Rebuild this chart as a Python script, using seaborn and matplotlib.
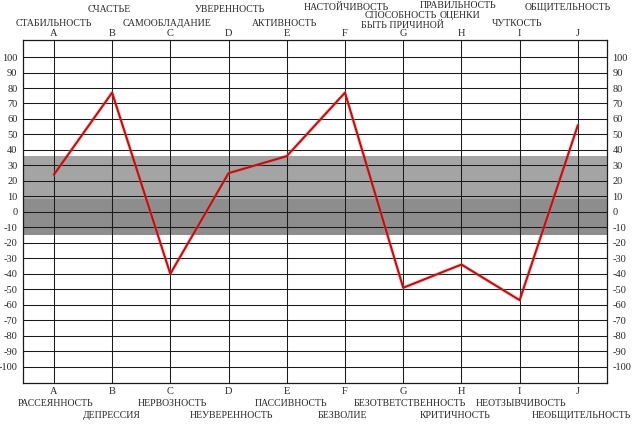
import matplotlib
matplotlib.use("Agg")
import matplotlib.pyplot as plt
import seaborn as sns
import pandas as pd
from matplotlib.transforms import blended_transform_factory

letters = ["A", "B", "C", "D", "E", "F", "G", "H", "I", "J"]
values = [24, 77, -40, 25, 36, 77, -49, -34, -57, 56]
yticks = list(range(-100, 101, 10))

top_labels = ["СТАБИЛЬНОСТЬ", "СЧАСТЬЕ", "САМООБЛАДАНИЕ", "УВЕРЕННОСТЬ", "АКТИВНОСТЬ",
              "НАСТОЙЧИВОСТЬ", "СПОСОБНОСТЬ", "БЫТЬ ПРИЧИНОЙ", "ПРАВИЛЬНОСТЬ", "ОЦЕНКИ",
              "ЧУТКОСТЬ", "ОБЩИТЕЛЬНОСТЬ"]
top_pos = [(54, 24), (109, 10), (167, 24), (230, 10), (285, 24), (346, 8),
           (401, 16), (402, 25), (458, 5), (460, 15), (517, 23), (568, 8)]
bottom_labels = ["РАССЕЯННОСТЬ", "ДЕПРЕССИЯ", "НЕРВОЗНОСТЬ", "НЕУВЕРЕННОСТЬ", "ПАССИВНОСТЬ",
                 "БЕЗВОЛИЕ", "БЕЗОТВЕТСТВЕННОСТЬ", "КРИТИЧНОСТЬ", "НЕОТЗЫВЧИВОСТЬ",
                 "НЕОБЩИТЕЛЬНОСТЬ"]
bottom_pos = [(56, 403), (112, 415), (172, 403), (231, 415), (291, 403), (342, 415),
              (410, 403), (455, 415), (521, 403), (581, 415)]

sns.set_style("white")
plt.rcParams["font.family"] = ["Liberation Serif", "DejaVu Serif"]

W, H = 640, 426
fig = plt.figure(figsize=(W / 100, H / 100), dpi=100)
ax = fig.add_axes([23 / W, 1 - 383 / H, (607 - 23) / W, (383 - 40) / H])

df = pd.DataFrame({"x": range(len(letters)), "v": values})

# gray bands
ax.axhspan(8, 36, color="#a4a4a4", zorder=0, lw=0)
ax.axhspan(-15, 8, color="#8d8d8d", zorder=0, lw=0)

for y in yticks:
    ax.axhline(y, color="#1a1a1a", lw=0.75, zorder=1)
for i in range(len(letters)):
    ax.axvline(i, color="#1a1a1a", lw=0.75, zorder=1)

sns.lineplot(data=df, x="x", y="v", ax=ax, color="#ff7070", lw=3.0, alpha=0.3, zorder=2)
sns.lineplot(data=df, x="x", y="v", ax=ax, color="#b41414", lw=1.5, zorder=3)

ax.set_xlim(-0.53, 9.5)
ax.set_ylim(-110.5, 111)
ax.set_xticks([])
ax.set_yticks(yticks)
ax.set_yticklabels([str(t) for t in yticks])
ax.tick_params(axis="y", length=0, labelsize=7.5, labelright=True, pad=4)
for t in ax.yaxis.get_major_ticks():
    t.label2.set_horizontalalignment("left")
    t.set_pad(4)
ax.set_xlabel("")
ax.set_ylabel("")
for s in ax.spines.values():
    s.set_visible(True)
    s.set_color("#1a1a1a")
    s.set_linewidth(0.9)

tr = blended_transform_factory(ax.transData, fig.transFigure)
for i, L in enumerate(letters):
    ax.text(i, 1 - 33 / H, L, transform=tr, ha="center", va="center", fontsize=7.5)
    ax.text(i, 1 - 392 / H, L, transform=tr, ha="center", va="center", fontsize=7.5)

for lab, (px, py) in zip(top_labels, top_pos):
    fig.text(px / W, 1 - py / H, lab, ha="center", va="center", fontsize=7)
for lab, (px, py) in zip(bottom_labels, bottom_pos):
    fig.text(px / W, 1 - py / H, lab, ha="center", va="center", fontsize=7)

fig.savefig("out.png", dpi=100)
